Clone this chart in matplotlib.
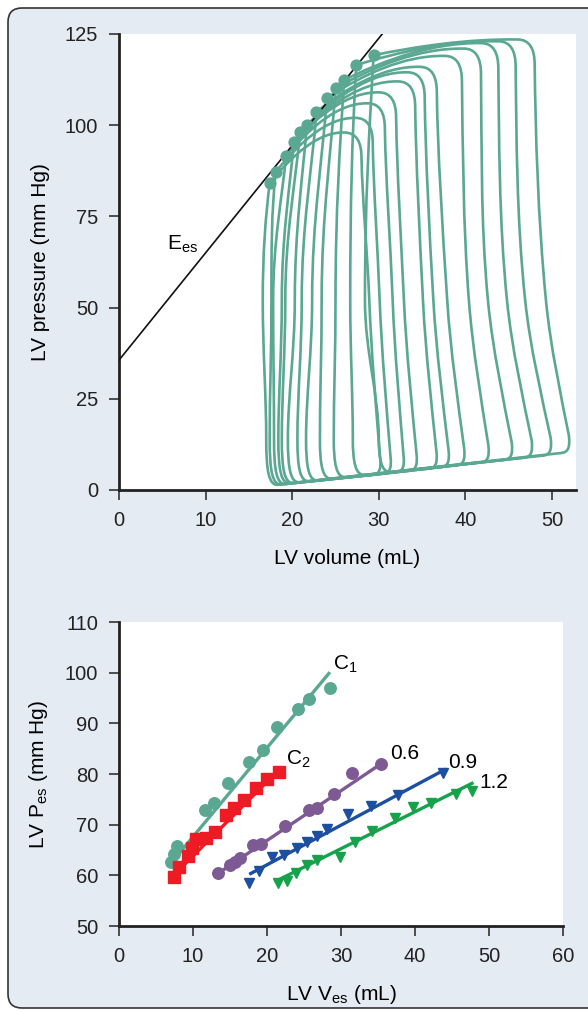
import numpy as np
import matplotlib
matplotlib.use("Agg")
import matplotlib.pyplot as plt
from matplotlib.path import Path
from matplotlib.patches import PathPatch, FancyBboxPatch

plt.rcParams['font.family'] = ['Liberation Sans', 'DejaVu Sans']
plt.rcParams['mathtext.fontset'] = 'custom'
plt.rcParams['mathtext.rm'] = 'Liberation Sans'

TEAL = '#5aa792'
PANEL_BG = '#e4ebf2'

# --- top panel: pressure-volume loops (one row per loop, smallest first) ---
ESV = [17.4, 18.1, 19.3, 20.2, 20.9, 21.7, 22.8, 24.0, 25.0, 26.0, 27.4, 29.4]
PES = [84.1, 87.2, 91.6, 95.5, 98.0, 100.1, 103.6, 107.4, 110.1, 112.4, 116.5, 119.2]
V_LEFT_MID = [16.6, 17.6, 17.8, 18.8, 19.2, 20.3, 21.1, 22.3, 23.4, 25.0, 26.7, 28.4]
V_LEFT_LOW = [17.0, 17.4, 17.9, 18.4, 18.8, 19.5, 20.6, 21.6, 23.2, 24.8, 27.0, 30.0]
P_FOOT = [1.1, 1.2, 1.3, 1.5, 1.6, 1.8, 2.1, 2.3, 2.8, 3.2, 3.8, 4.6]
EDV = [30.3, 31.5, 33.0, 34.5, 36.8, 38.2, 40.0, 42.8, 45.5, 47.8, 50.0, 52.1]
EDP = [4.4, 4.7, 5.1, 5.5, 6.1, 6.5, 7.0, 7.8, 8.5, 9.1, 9.7, 10.4]
V_RIGHT_MID = [28.9, 30.1, 31.6, 32.9, 35.1, 36.3, 37.9, 40.4, 42.6, 44.8, 46.9, 49.3]
V_TOP = [28.0, 29.3, 30.7, 32.0, 34.2, 35.3, 36.7, 39.6, 41.8, 43.8, 45.8, 48.0]
P_MAX = [98.0, 102.0, 106.0, 109.0, 112.0, 114.5, 116.0, 119.0, 121.0, 122.5, 123.0, 123.5]

# end-systolic elastance line
EES_V = [0.0, 30.6]
EES_P = [35.6, 125.6]

# --- bottom panel: end-systolic points and fitted lines ---
C1_V = [7.03, 7.43, 7.88, 11.62, 12.88, 14.77, 17.61, 19.50, 21.31, 24.23, 25.72, 28.51]
C1_P = [62.6, 64.3, 65.7, 72.8, 74.3, 78.2, 82.3, 84.7, 89.2, 92.8, 94.8, 96.9]
C1_FIT = ([7.6, 28.5], [63.4, 100.1])

C2_V = [7.43, 8.15, 9.36, 9.82, 10.41, 11.76, 12.97, 14.46, 15.54, 16.89, 18.47, 20.04, 21.62]
C2_P = [59.7, 61.6, 63.8, 65.3, 67.1, 67.3, 68.6, 71.9, 73.2, 74.9, 77.2, 79.1, 80.4]
C2_FIT = ([7.6, 21.8], [60.3, 81.1])

D06_V = [13.4, 14.96, 15.64, 16.3, 18.08, 19.2, 22.45, 25.66, 26.78, 29.01, 31.46, 35.39]
D06_P = [60.4, 62.0, 62.6, 63.4, 65.9, 66.2, 69.7, 72.9, 73.2, 76.0, 80.1, 82.0]
D06_FIT = ([13.0, 35.7], [60.0, 82.3])

D09_V = [17.63, 18.97, 20.66, 22.33, 24.1, 25.45, 26.78, 28.12, 31.01, 34.05, 37.71, 43.73]
D09_P = [58.4, 60.8, 63.6, 64.0, 65.4, 66.5, 67.8, 69.1, 72.1, 73.6, 75.8, 80.2]
D09_FIT = ([17.6, 44.2], [60.2, 81.0])

D12_V = [21.43, 22.64, 23.88, 25.45, 26.78, 29.91, 31.9, 34.14, 37.26, 39.72, 42.16, 45.51, 47.74]
D12_P = [58.4, 58.9, 60.4, 62.0, 63.0, 63.6, 66.6, 68.8, 71.4, 73.4, 74.3, 76.0, 76.6]
D12_FIT = ([21.0, 47.9], [58.7, 78.3])

SERIES = [
    ('C$_1$', C1_V, C1_P, C1_FIT, TEAL, 'o', (28.9, 101.6)),
    ('C$_2$', C2_V, C2_P, C2_FIT, '#ed1c24', 's', (22.6, 83.0)),
    ('0.6', D06_V, D06_P, D06_FIT, '#7d5a94', 'o', (36.6, 84.0)),
    ('0.9', D09_V, D09_P, D09_FIT, '#1c4f9f', 'v', (44.5, 82.3)),
    ('1.2', D12_V, D12_P, D12_FIT, '#16a24a', 'v', (48.7, 78.4)),
]


def loop_path(i):
    """Closed Bezier outline of one pressure-volume loop."""
    esv, pes = ESV[i], PES[i]
    vlm, vll, pf = V_LEFT_MID[i], V_LEFT_LOW[i], P_FOOT[i]
    edv, edp = EDV[i], EDP[i]
    vrm, vtop, pmax = V_RIGHT_MID[i], V_TOP[i], P_MAX[i]

    # foot of the right side, heading up towards its mid point
    rv, rp = edv - 0.15, edp + 4.5
    h1 = 52 - rp
    h2 = pmax - 59
    lean = 0.2 * (rv - vrm)
    tv = vtop - 2.0

    verts = [
        (esv, pes),
        # relaxation
        (esv - 0.5, pes - 0.3 * (pes - 52)), (vlm, 52 + 0.4 * (pes - 52)), (vlm, 52),
        (vlm, 38), (vll, 26), (vll, 14),
        (vll, pf + 4), (vll + 0.3, pf), (vll + 1.4, pf + 0.35),
        # filling
        (edv - 1.0, edp - 0.25),
        (edv - 0.25, edp - 0.05), (edv, edp + 1.2), (rv, rp),
        # contraction
        (rv - 0.35 * (rv - vrm), rp + 0.3 * h1), (vrm + lean, 52 - 0.35 * h1), (vrm, 52),
        (vrm - lean * h2 / h1, 52 + 0.35 * h2), (vtop + 0.1, pmax - 7 - 0.3 * h2),
        (vtop, pmax - 7),
        (vtop, pmax - 2.5), (vtop - 0.6, pmax), (tv, pmax),
        # ejection
        (tv - 0.35 * (tv - esv), pmax + 0.2),
        (esv + 0.3 * (tv - esv), pes + 0.55 * (pmax - pes)),
        (esv, pes),
    ]
    codes = [Path.MOVETO] + [Path.CURVE4] * 9 + [Path.LINETO] + [Path.CURVE4] * 15
    return Path(verts, codes)


def style_axes(ax):
    for side in ('top', 'right'):
        ax.spines[side].set_visible(False)
    for side in ('left', 'bottom'):
        ax.spines[side].set_linewidth(2.0)
        ax.spines[side].set_color('#222222')
    ax.tick_params(direction='out', length=7, width=1.2, pad=8,
                   labelsize=14.5, color='#333333', labelcolor='#222222')
    ax.set_facecolor('white')


fig = plt.figure(figsize=(5.88, 10.11), dpi=100)
fig.patch.set_facecolor('white')

frame = FancyBboxPatch((0.08, 0.03), 6.2, 10.0,
                       boxstyle='round,pad=0,rounding_size=0.14',
                       transform=fig.dpi_scale_trans,
                       facecolor=PANEL_BG, edgecolor='#333333', linewidth=1.2,
                       zorder=-10)
fig.add_artist(frame)

# top panel
ax1 = fig.add_axes([119 / 588, 1 - 490 / 1011, (576 - 119) / 588, (490 - 34) / 1011])
style_axes(ax1)
for i in range(len(ESV)):
    ax1.add_patch(PathPatch(loop_path(i), fill=False, edgecolor=TEAL,
                            linewidth=1.9, joinstyle='round', capstyle='round'))
ax1.plot(EES_V, EES_P, color='#111111', linewidth=1.2, zorder=3)
ax1.plot(ESV, PES, 'o', color=TEAL, markersize=7.8, zorder=4)
ax1.text(5.6, 67.3, r'$\mathregular{E_{es}}$', fontsize=15, va='center', ha='left')
ax1.set_xlim(0, 52.77)
ax1.set_ylim(0, 125)
ax1.set_xticks([0, 10, 20, 30, 40, 50])
ax1.set_yticks([0, 25, 50, 75, 100, 125])
ax1.set_xlabel('LV volume (mL)', fontsize=15, labelpad=14)
ax1.set_ylabel('LV pressure (mm Hg)', fontsize=15, labelpad=11)

# bottom panel
ax2 = fig.add_axes([119 / 588, 1 - 926 / 1011, (563 - 119) / 588, (926 - 622) / 1011])
style_axes(ax2)
for label, vs, ps, fit, color, marker, pos in SERIES:
    ax2.plot(fit[0], fit[1], color=color, linewidth=2.4, solid_capstyle='butt', zorder=2)
    ax2.plot(vs, ps, marker, color=color, markersize=8.3 if marker != 'v' else 7.8,
             linestyle='none', zorder=3)
    ax2.text(pos[0], pos[1], label, fontsize=15, ha='left', va='center')
ax2.set_xlim(0, 60)
ax2.set_ylim(50, 110)
ax2.set_xticks(range(0, 61, 10))
ax2.set_yticks(range(50, 111, 10))
ax2.set_xlabel(r'LV V$_\mathregular{es}$ (mL)', fontsize=15, labelpad=12)
ax2.set_ylabel(r'LV P$_\mathregular{es}$ (mm Hg)', fontsize=15, labelpad=11)

fig.savefig('out.png', dpi=100, facecolor=fig.get_facecolor())
